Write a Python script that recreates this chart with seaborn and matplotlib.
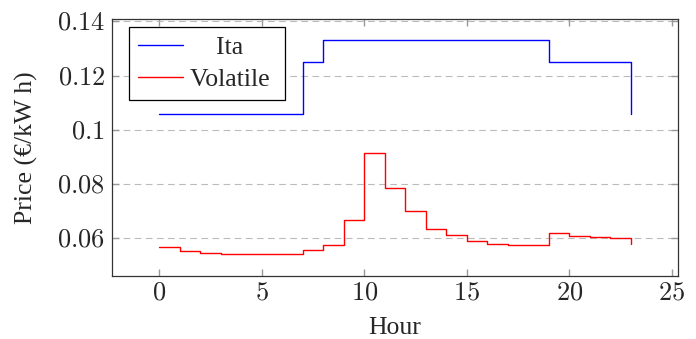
import matplotlib
matplotlib.use("Agg")
import matplotlib.pyplot as plt
import seaborn as sns
import pandas as pd

hours = list(range(24))
ita = [0.106] * 7 + [0.125] + [0.133] * 11 + [0.125] * 4 + [0.106]
volatile = [0.0568, 0.0554, 0.0546, 0.0543, 0.0542, 0.0541, 0.0542, 0.0556,
            0.0577, 0.0669, 0.0913, 0.0784, 0.0700, 0.0633, 0.0611, 0.0590,
            0.0578, 0.0574, 0.0577, 0.0618, 0.0610, 0.0604, 0.0600, 0.0578]
x_ticks = [0, 5, 10, 15, 20, 25]
y_ticks = [0.06, 0.08, 0.1, 0.12, 0.14]
y_tick_labels = ["0.06", "0.08", "0.1", "0.12", "0.14"]

df = pd.DataFrame({
    "Hour": hours * 2,
    "Price": ita + volatile,
    "Series": ["Ita"] * 24 + ["Volatile"] * 24,
})

sns.set_style("ticks")
plt.rcParams["font.family"] = "serif"
plt.rcParams["font.serif"] = ["Liberation Serif", "DejaVu Serif"]
plt.rcParams["mathtext.fontset"] = "cm"

fig = plt.figure(figsize=(6.96, 3.39), dpi=100)
ax = fig.add_axes([0.161, 0.186, 0.813, 0.758])

sns.lineplot(data=df, x="Hour", y="Price", hue="Series",
             palette={"Ita": "blue", "Volatile": "red"},
             drawstyle="steps-post", linewidth=1.0, ax=ax)

ax.set_xlim(-2.3, 25.3)
ax.set_ylim(0.0461, 0.1409)
ax.set_xticks(x_ticks)
ax.set_xticklabels([f"${t}$" for t in x_ticks])
ax.set_yticks(y_ticks)
ax.set_yticklabels([f"${t}$" for t in y_tick_labels])
ax.tick_params(direction="in", top=True, right=True, length=5,
               color="#999999", labelsize=19, width=1.0, pad=5)
ax.grid(axis="y", linestyle=(0, (6, 4)), color="#bbbbbb", linewidth=0.8)
for s in ax.spines.values():
    s.set_color("#333333")
    s.set_linewidth(0.9)

ax.set_xlabel("Hour", fontsize=18.5, labelpad=9)
ax.set_ylabel("Price (€/kW h)", fontsize=18.5, labelpad=14)

# pgfplots centres legend text in its column, pad with spaces to mimic
handles, labels = ax.get_legend_handles_labels()
labels = ["    Ita", "Volatile "]
leg = ax.legend(handles, labels, loc="upper left", fontsize=18.5, frameon=True,
                fancybox=False, edgecolor="black", framealpha=1,
                handlelength=1.75, handletextpad=0.28, borderpad=0.35,
                labelspacing=0.36, borderaxespad=0,
                bbox_to_anchor=(0.030, 0.969))
leg.get_frame().set_linewidth(0.9)

fig.savefig("out.png", dpi=100)
